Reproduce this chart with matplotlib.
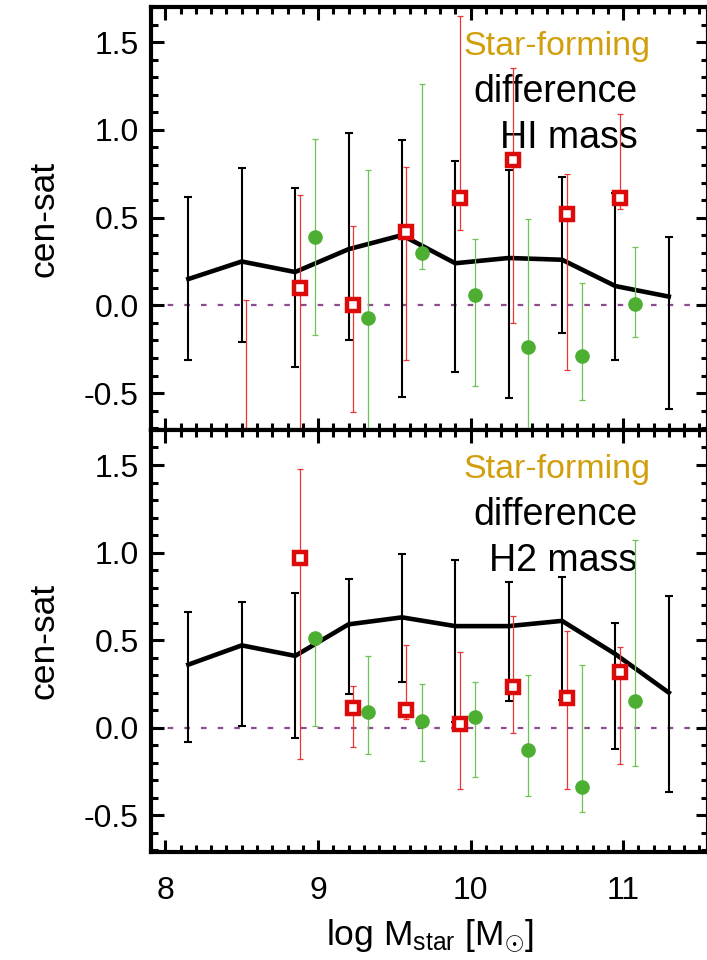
import numpy as np
import matplotlib
matplotlib.use("Agg")
import matplotlib.pyplot as plt
from matplotlib.ticker import MultipleLocator

plt.rcParams['font.family'] = ['Liberation Sans', 'DejaVu Sans']
plt.rcParams['mathtext.fontset'] = 'custom'
plt.rcParams['mathtext.rm'] = 'Liberation Sans'
plt.rcParams['mathtext.it'] = 'Liberation Sans'

# stellar mass bins (log Msun)
x_all = [8.15, 8.50, 8.85, 9.20, 9.55, 9.90, 10.25, 10.60, 10.95, 11.30]
x_red = [8.53, 8.88, 9.23, 9.58, 9.93, 10.28, 10.63, 10.98]
x_green = [8.98, 9.33, 9.68, 10.03, 10.38, 10.73, 11.08]

# HI mass: central - satellite difference
hi_all = [0.15, 0.25, 0.19, 0.32, 0.40, 0.24, 0.27, 0.26, 0.11, 0.05]
hi_all_lo = [-0.31, -0.21, -0.35, -0.20, -0.52, -0.38, -0.53, -0.16, -0.31, -0.59]
hi_all_hi = [0.62, 0.78, 0.67, 0.98, 0.94, 0.82, 0.77, 0.73, 0.64, 0.39]

hi_red = [-1.00, 0.10, 0.00, 0.42, 0.61, 0.83, 0.52, 0.61]
hi_red_lo = [-1.50, -0.90, -0.61, -0.31, 0.43, -0.10, -0.37, 0.55]
hi_red_hi = [0.03, 0.63, 0.45, 0.79, 1.65, 1.35, 0.75, 1.09]

hi_green = [0.39, -0.07, 0.30, 0.06, -0.24, -0.29, 0.01]
hi_green_lo = [-0.17, -0.90, 0.21, -0.46, -0.90, -0.54, -0.18]
hi_green_hi = [0.95, 0.77, 1.26, 0.38, 0.49, 0.13, 0.33]

# H2 mass: central - satellite difference
h2_all = [0.36, 0.47, 0.41, 0.59, 0.63, 0.58, 0.58, 0.61, 0.42, 0.20]
h2_all_lo = [-0.08, 0.01, -0.06, 0.19, 0.26, 0.03, 0.15, 0.16, -0.12, -0.37]
h2_all_hi = [0.66, 0.72, 0.77, 0.85, 0.99, 0.96, 0.83, 0.86, 0.60, 0.75]

h2_red = [np.nan, 0.97, 0.11, 0.10, 0.02, 0.23, 0.17, 0.32]
h2_red_lo = [np.nan, -0.18, -0.11, 0.05, -0.35, -0.03, -0.35, -0.21]
h2_red_hi = [np.nan, 1.48, 0.24, 0.47, 0.43, 0.64, 0.55, 0.46]

h2_green = [0.51, 0.09, 0.04, 0.06, -0.13, -0.34, 0.15]
h2_green_lo = [0.01, -0.15, -0.19, -0.28, -0.39, -0.48, -0.22]
h2_green_hi = [0.51, 0.41, 0.25, 0.26, 0.30, 0.36, 1.07]

panels = [
    ("HI mass", (hi_all, hi_all_lo, hi_all_hi), (hi_red, hi_red_lo, hi_red_hi),
     (hi_green, hi_green_lo, hi_green_hi)),
    ("H2 mass", (h2_all, h2_all_lo, h2_all_hi), (h2_red, h2_red_lo, h2_red_hi),
     (h2_green, h2_green_lo, h2_green_hi)),
]

RED = "#dd0a0a"
RED_BAR = "#ea3535"
GREEN = "#4caf32"
GREEN_BAR = "#6cc453"
GOLD = "#d29f0c"
PURPLE = "#8e4a8e"


def yerr(vals, lo, hi):
    v, l, h = np.asarray(vals), np.asarray(lo), np.asarray(hi)
    return np.vstack([v - l, h - v])


fig = plt.figure(figsize=(7.07, 9.60), dpi=100)
left = 151 / 707
width = 557 / 707
axes = [fig.add_axes([left, 0.5521, width, 0.4406]),
        fig.add_axes([left, 0.1125, width, 0.4396])]

for ax, (name, allp, redp, grnp) in zip(axes, panels):
    ax.axhline(0.0, color=PURPLE, lw=1.6, ls=(0, (2.5, 5)), zorder=1)

    ax.errorbar(x_all, allp[0], yerr=yerr(*allp), fmt="none", ecolor="black",
                elinewidth=1.5, capsize=2.8, capthick=1.5, zorder=2)
    ax.plot(x_all, allp[0], color="black", lw=3.3, zorder=3)

    ax.errorbar(x_red, redp[0], yerr=yerr(*redp), fmt="none", ecolor=RED_BAR,
                elinewidth=0.9, capsize=2.2, capthick=0.9, zorder=4)
    ax.plot(x_red, redp[0], ls="none", marker="s", ms=9, mfc="white",
            mec=RED, mew=3.2, zorder=5)

    ax.errorbar(x_green, grnp[0], yerr=yerr(*grnp), fmt="none", ecolor=GREEN_BAR,
                elinewidth=0.9, capsize=2.2, capthick=0.9, zorder=6)
    ax.plot(x_green, grnp[0], ls="none", marker="o", ms=9.5, color=GREEN,
            mec=GREEN, zorder=7)

    ax.set_xlim(7.905, 11.557)
    ax.set_ylim(-0.71, 1.70)
    ax.xaxis.set_major_locator(MultipleLocator(1))
    ax.xaxis.set_minor_locator(MultipleLocator(0.1))
    ax.yaxis.set_major_locator(MultipleLocator(0.5))
    ax.yaxis.set_minor_locator(MultipleLocator(0.1))
    ax.yaxis.set_major_formatter(plt.FuncFormatter(lambda v, p: f"{v:.1f}"))
    ax.tick_params(which="both", direction="in", top=True, right=True,
                   width=2.2, labelsize=23)
    ax.tick_params(which="major", length=9, pad=9)
    ax.tick_params(which="minor", length=5)
    ax.tick_params(axis="x", which="major", pad=17)
    for sp in ax.spines.values():
        sp.set_linewidth(3)
    ax.set_ylabel("cen-sat", fontsize=25.5, labelpad=17)

    ax.text(0.896, 0.8865, "Star-forming", transform=ax.transAxes, ha="right",
            va="baseline", color=GOLD, fontsize=24.5)
    ax.text(0.873, 0.7754, "difference", transform=ax.transAxes, ha="right",
            va="baseline", color="black", fontsize=27)
    ax.text(0.873, 0.6667, name, transform=ax.transAxes, ha="right",
            va="baseline", color="black", fontsize=27)

axes[0].tick_params(axis="x", labelbottom=False)
axes[1].set_xlabel(r"log M$_{\rm star}$ [M$_{\odot}$]", fontsize=25.5, labelpad=9)

fig.savefig("out.png", dpi=100)
